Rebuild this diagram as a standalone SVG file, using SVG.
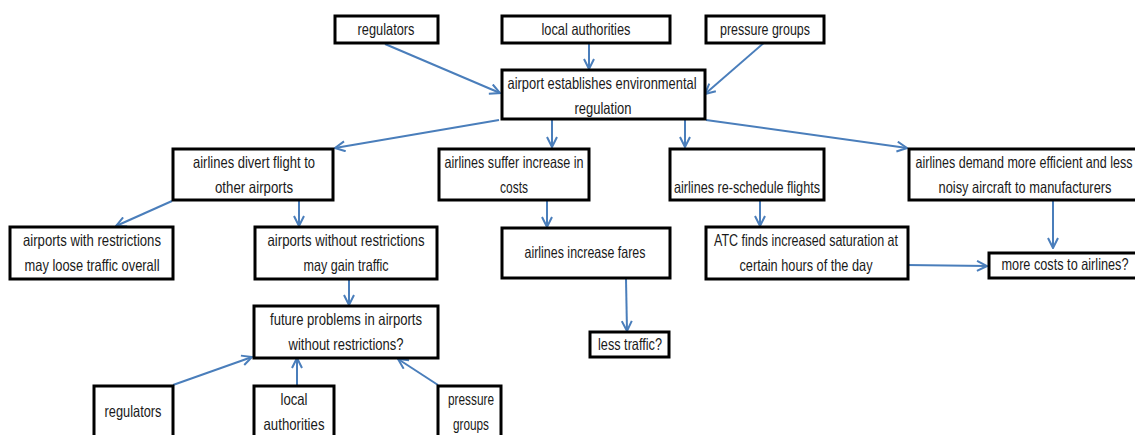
<svg xmlns="http://www.w3.org/2000/svg" width="1135" height="435" viewBox="0 0 1135 435">
<style>
.b{fill:#fff;stroke:#000;stroke-width:3}
.t{font-family:"Liberation Sans",Arial,sans-serif;font-size:16.5px;fill:#1a1a1a;text-anchor:middle}
.c{stroke:#4a7ebb;stroke-width:2;fill:none}
</style>
<defs>
<marker id="a" viewBox="0 0 12 12" refX="11" refY="6" markerWidth="12" markerHeight="12" markerUnits="userSpaceOnUse" orient="auto">
<path d="M1,1 L11,6 L1,11" fill="none" stroke="#4a7ebb" stroke-width="2"/>
</marker>
</defs>
<rect width="1135" height="435" fill="#fff"/>
<g id="connectors">
<line class="c" x1="385" y1="44" x2="500" y2="93" marker-end="url(#a)"/>
<line class="c" x1="589" y1="41" x2="589" y2="69" marker-end="url(#a)"/>
<line class="c" x1="766" y1="41" x2="705" y2="94" marker-end="url(#a)"/>
<line class="c" x1="499" y1="120" x2="335" y2="148" marker-end="url(#a)"/>
<line class="c" x1="552" y1="120" x2="552" y2="147" marker-end="url(#a)"/>
<line class="c" x1="685" y1="120" x2="685" y2="147" marker-end="url(#a)"/>
<line class="c" x1="706" y1="120" x2="907" y2="148" marker-end="url(#a)"/>
<line class="c" x1="172" y1="201" x2="116" y2="226" marker-end="url(#a)"/>
<line class="c" x1="299" y1="201" x2="299" y2="226" marker-end="url(#a)"/>
<line class="c" x1="547" y1="201" x2="547" y2="227" marker-end="url(#a)"/>
<line class="c" x1="760" y1="201" x2="760" y2="226" marker-end="url(#a)"/>
<line class="c" x1="1053" y1="201" x2="1053" y2="248" marker-end="url(#a)"/>
<line class="c" x1="906" y1="265" x2="987" y2="266" marker-end="url(#a)"/>
<line class="c" x1="626" y1="279" x2="627" y2="331" marker-end="url(#a)"/>
<line class="c" x1="349" y1="280" x2="349" y2="305" marker-end="url(#a)"/>
<line class="c" x1="173" y1="385" x2="252" y2="357" marker-end="url(#a)"/>
<line class="c" x1="297" y1="385" x2="297" y2="358" marker-end="url(#a)"/>
<line class="c" x1="438" y1="385" x2="398" y2="359" marker-end="url(#a)"/>
</g>
<g id="n_regulators_top"><rect class="b" x="335" y="16" width="103" height="27"/><text class="t" x="386" y="35" textLength="57" lengthAdjust="spacingAndGlyphs">regulators</text></g>
<g id="n_local_top"><rect class="b" x="502" y="16" width="168" height="27"/><text class="t" x="586" y="35" textLength="89" lengthAdjust="spacingAndGlyphs">local authorities</text></g>
<g id="n_pressure_top"><rect class="b" x="706" y="16" width="118" height="27"/><text class="t" x="765" y="35" textLength="90" lengthAdjust="spacingAndGlyphs">pressure groups</text></g>
<g id="n_airport"><rect class="b" x="502" y="70" width="203" height="49"/><text class="t" x="602" y="89" textLength="189" lengthAdjust="spacingAndGlyphs">airport establishes environmental</text><text class="t" x="603" y="114" textLength="57" lengthAdjust="spacingAndGlyphs">regulation</text></g>
<g id="n_divert"><rect class="b" x="173" y="149" width="160" height="51"/><text class="t" x="254" y="168" textLength="122" lengthAdjust="spacingAndGlyphs">airlines divert flight to</text><text class="t" x="254" y="193" textLength="78" lengthAdjust="spacingAndGlyphs">other airports</text></g>
<g id="n_suffer"><rect class="b" x="439" y="149" width="150" height="51"/><text class="t" x="514" y="168" textLength="139" lengthAdjust="spacingAndGlyphs">airlines suffer increase in</text><text class="t" x="514" y="193" textLength="28" lengthAdjust="spacingAndGlyphs">costs</text></g>
<g id="n_reschedule"><rect class="b" x="670" y="149" width="154" height="51"/><text class="t" x="747" y="193" textLength="146" lengthAdjust="spacingAndGlyphs">airlines re-schedule flights</text></g>
<g id="n_demand"><rect class="b" x="909" y="149" width="240" height="51"/><text class="t" x="1024" y="168" textLength="217" lengthAdjust="spacingAndGlyphs">airlines demand more efficient and less</text><text class="t" x="1025" y="193" textLength="173" lengthAdjust="spacingAndGlyphs">noisy aircraft to manufacturers</text></g>
<g id="n_with"><rect class="b" x="10" y="227" width="163" height="52"/><text class="t" x="92" y="246" textLength="138" lengthAdjust="spacingAndGlyphs">airports with restrictions</text><text class="t" x="92" y="271" textLength="135" lengthAdjust="spacingAndGlyphs">may loose traffic overall</text></g>
<g id="n_without"><rect class="b" x="255" y="227" width="182" height="52"/><text class="t" x="346" y="246" textLength="157" lengthAdjust="spacingAndGlyphs">airports without restrictions</text><text class="t" x="346" y="271" textLength="85" lengthAdjust="spacingAndGlyphs">may gain traffic</text></g>
<g id="n_fares"><rect class="b" x="502" y="228" width="168" height="50"/><text class="t" x="585" y="258" textLength="121" lengthAdjust="spacingAndGlyphs">airlines increase fares</text></g>
<g id="n_atc"><rect class="b" x="706" y="227" width="202" height="52"/><text class="t" x="806" y="246" textLength="184" lengthAdjust="spacingAndGlyphs">ATC finds increased saturation at</text><text class="t" x="806" y="271" textLength="133" lengthAdjust="spacingAndGlyphs">certain hours of the day</text></g>
<g id="n_morecosts"><rect class="b" x="989" y="253" width="160" height="25"/><text class="t" x="1065" y="270" textLength="127" lengthAdjust="spacingAndGlyphs">more costs to airlines?</text></g>
<g id="n_future"><rect class="b" x="254" y="306" width="184" height="52"/><text class="t" x="346" y="325" textLength="152" lengthAdjust="spacingAndGlyphs">future problems in airports</text><text class="t" x="346" y="350" textLength="115" lengthAdjust="spacingAndGlyphs">without restrictions?</text></g>
<g id="n_less"><rect class="b" x="590" y="332" width="79" height="25"/><text class="t" x="630" y="350" textLength="64" lengthAdjust="spacingAndGlyphs">less traffic?</text></g>
<g id="n_regulators_bottom"><rect class="b" x="94" y="386" width="79" height="60"/><text class="t" x="133" y="417" textLength="57" lengthAdjust="spacingAndGlyphs">regulators</text></g>
<g id="n_local_bottom"><rect class="b" x="254" y="386" width="80" height="60"/><text class="t" x="294" y="405" textLength="27" lengthAdjust="spacingAndGlyphs">local</text><text class="t" x="294" y="430" textLength="61" lengthAdjust="spacingAndGlyphs">authorities</text></g>
<g id="n_pressure_bottom"><rect class="b" x="438" y="386" width="63" height="60"/><text class="t" x="471" y="405" textLength="46" lengthAdjust="spacingAndGlyphs">pressure</text><text class="t" x="471" y="430" textLength="36" lengthAdjust="spacingAndGlyphs">groups</text></g>
</svg>
